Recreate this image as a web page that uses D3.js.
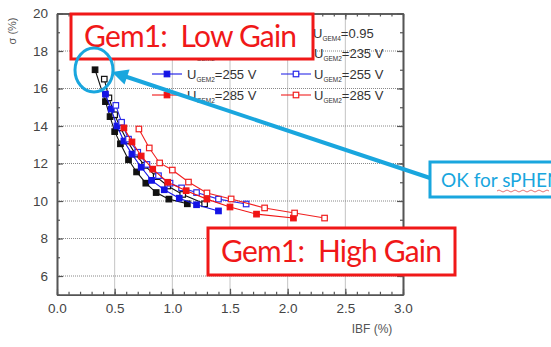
<!DOCTYPE html>
<html>
<head>
<meta charset="utf-8">
<script src="https://cdn.jsdelivr.net/npm/d3@7"></script>
<style>
  body { margin: 0; background: #fff; }
  text { font-family: "Liberation Sans", Arial, sans-serif; }
</style>
</head>
<body>
<div id="chart"></div>
<script>
// data: IBF (%) vs sigma (%)
const ibf235Filled = [0.33, 0.42, 0.46, 0.50, 0.55, 0.62, 0.69, 0.77, 0.86, 0.97, 1.13];
const sig235Filled = [17.0, 15.3, 14.5, 13.7, 13.05, 12.2, 11.55, 10.95, 10.45, 10.1, 9.85];
const ibf235Open = [0.41, 0.45, 0.50, 0.55, 0.61, 0.68, 0.76, 0.86, 0.96, 1.09, 1.28];
const sig235Open = [16.5, 15.5, 14.6, 13.9, 13.2, 12.5, 11.9, 11.3, 10.8, 10.35, 9.85];
const ibf255Filled = [0.42, 0.47, 0.52, 0.58, 0.65, 0.73, 0.82, 0.93, 1.06, 1.21, 1.40];
const sig255Filled = [15.7, 14.9, 14.0, 13.2, 12.5, 11.8, 11.1, 10.6, 10.15, 9.8, 9.47];
const ibf255Open = [0.51, 0.56, 0.62, 0.70, 0.78, 0.88, 0.98, 1.08, 1.21, 1.40, 1.64];
const sig255Open = [15.1, 14.2, 13.3, 12.6, 11.95, 11.35, 10.95, 10.7, 10.45, 10.1, 9.84];
const ibf285Filled = [0.58, 0.65, 0.73, 0.83, 0.96, 1.12, 1.30, 1.50, 1.73, 2.05];
const sig285Filled = [13.9, 13.15, 12.4, 11.7, 11.0, 10.55, 10.1, 9.68, 9.3, 9.09];
const ibf285Open = [0.71, 0.80, 0.89, 1.00, 1.14, 1.30, 1.51, 1.80, 2.06, 2.32];
const sig285Open = [13.84, 12.83, 12.03, 11.65, 11.01, 10.43, 10.11, 9.63, 9.36, 9.09];

const xTicks = [0.0, 0.5, 1.0, 1.5, 2.0, 2.5, 3.0];
const yTicks = [6, 8, 10, 12, 14, 16, 18, 20];

const series = [
  { x: ibf235Filled, y: sig235Filled, color: '#111', open: false },
  { x: ibf235Open, y: sig235Open, color: '#111', open: true },
  { x: ibf255Filled, y: sig255Filled, color: '#1414e6', open: false },
  { x: ibf255Open, y: sig255Open, color: '#2a2ae8', open: true },
  { x: ibf285Filled, y: sig285Filled, color: '#f01414', open: false },
  { x: ibf285Open, y: sig285Open, color: '#f02020', open: true }
];

const legendRows = [
  { label: '235 V', left: 0, right: 1, y: 53 },
  { label: '255 V', left: 2, right: 3, y: 74 },
  { label: '285 V', left: 4, right: 5, y: 95 }
];

const margin = { top: 13.5, left: 57 };
const width = 346, height = 281.25;

const svg = d3.select('#chart').append('svg')
  .attr('width', 551).attr('height', 347);

const g = svg.append('g')
  .attr('transform', 'translate(' + margin.left + ',' + margin.top + ')');

const xScale = d3.scaleLinear().domain([0, 3]).range([0, width]);
const yScale = d3.scaleLinear().domain([5, 20]).range([height, 0]);

// dotted grid
g.append('g').selectAll('line')
  .data(xTicks.filter(v => v > 0 && v < 3))
  .enter().append('line')
  .attr('x1', d => xScale(d)).attr('x2', d => xScale(d))
  .attr('y1', 0).attr('y2', height)
  .attr('stroke', '#888').attr('stroke-width', 1).attr('stroke-dasharray', '1,1');
g.append('g').selectAll('line')
  .data(yTicks.filter(v => v < 20))
  .enter().append('line')
  .attr('x1', 0).attr('x2', width)
  .attr('y1', d => yScale(d)).attr('y2', d => yScale(d))
  .attr('stroke', '#888').attr('stroke-width', 1).attr('stroke-dasharray', '1,1');

// axes with inward ticks on all four sides
const minorX = d3.range(0, 30.5, 1).map(v => v / 10);
const minorY = d3.range(5, 20.5, 1);

function styleAxis(sel) {
  sel.selectAll('.domain').attr('stroke', '#555').attr('stroke-width', 1.6);
  sel.selectAll('.tick line').attr('stroke', '#555').attr('stroke-width', 1.2);
  sel.selectAll('text').attr('fill', '#444').style('font-size', '13.5px')
    .style('font-family', '"Liberation Sans", Arial, sans-serif');
}

const bottom = g.append('g').attr('transform', 'translate(0,' + height + ')')
  .call(d3.axisBottom(xScale).tickValues(xTicks).tickFormat(d3.format('.1f'))
    .tickSizeInner(-6).tickSizeOuter(0).tickPadding(9));
styleAxis(bottom);
g.append('g').attr('transform', 'translate(0,' + height + ')')
  .call(d3.axisBottom(xScale).tickValues(minorX).tickFormat('').tickSizeInner(-3).tickSizeOuter(0))
  .call(styleAxis);

const left = g.append('g')
  .call(d3.axisLeft(yScale).tickValues(yTicks).tickFormat(d3.format('d'))
    .tickSizeInner(-6).tickSizeOuter(0).tickPadding(9));
styleAxis(left);
g.append('g')
  .call(d3.axisLeft(yScale).tickValues(minorY).tickFormat('').tickSizeInner(-3).tickSizeOuter(0))
  .call(styleAxis);

g.append('g')
  .call(d3.axisTop(xScale).tickValues(xTicks).tickFormat('').tickSizeInner(-6).tickSizeOuter(0))
  .call(styleAxis);
g.append('g')
  .call(d3.axisTop(xScale).tickValues(minorX).tickFormat('').tickSizeInner(-3).tickSizeOuter(0))
  .call(styleAxis);
g.append('g').attr('transform', 'translate(' + width + ',0)')
  .call(d3.axisRight(yScale).tickValues(yTicks).tickFormat('').tickSizeInner(-6).tickSizeOuter(0))
  .call(styleAxis);
g.append('g').attr('transform', 'translate(' + width + ',0)')
  .call(d3.axisRight(yScale).tickValues(minorY).tickFormat('').tickSizeInner(-3).tickSizeOuter(0))
  .call(styleAxis);

// axis titles
svg.append('text')
  .attr('transform', 'translate(16,31) rotate(-90)')
  .attr('text-anchor', 'middle')
  .attr('fill', '#555').style('font-size', '11px')
  .text('σ (%)');
svg.append('text')
  .attr('x', 372).attr('y', 333)
  .attr('text-anchor', 'middle')
  .attr('fill', '#555').style('font-size', '12px')
  .text('IBF (%)');

// curves
const line = d3.line().x(d => xScale(d[0])).y(d => yScale(d[1]));
const ms = 5.5;

function drawMarker(sel, s) {
  sel.attr('width', ms).attr('height', ms)
    .attr('fill', s.open ? '#fff' : s.color)
    .attr('stroke', s.color).attr('stroke-width', 1.2);
}

series.forEach(s => {
  const pts = s.x.map((v, i) => [v, s.y[i]]);
  g.append('path').datum(pts)
    .attr('d', line)
    .attr('fill', 'none').attr('stroke', s.color).attr('stroke-width', 1.1);
  g.append('g').selectAll('rect')
    .data(pts).enter().append('rect')
    .attr('x', d => xScale(d[0]) - ms / 2)
    .attr('y', d => yScale(d[1]) - ms / 2)
    .call(drawMarker, s);
});

// legend
const leg = svg.append('g');

function legendLabel(x, y, sub, rest) {
  const t = leg.append('text').attr('x', x).attr('y', y)
    .attr('fill', '#333').style('font-size', '13px');
  t.append('tspan').text('U');
  t.append('tspan').attr('dy', 3).style('font-size', '6.5px').text(sub);
  t.append('tspan').attr('dy', -3).text(rest);
}

legendLabel(313, 38, 'GEM4', '=0.95');
legendRows.forEach(r => {
  [[r.left, 152, 187], [r.right, 281, 314]].forEach(([idx, x0, tx]) => {
    const s = series[idx];
    leg.append('line').attr('x1', x0).attr('x2', x0 + 30)
      .attr('y1', r.y).attr('y2', r.y)
      .attr('stroke', s.color).attr('stroke-width', 1.1);
    leg.append('rect')
      .attr('x', x0 + 15 - ms / 2).attr('y', r.y - ms / 2)
      .call(drawMarker, s);
    legendLabel(tx, r.y + 5, 'GEM2', '=' + r.label);
  });
});

// annotation boxes
const red = '#f01818', cyan = '#19a6de';

svg.append('rect').attr('x', 71).attr('y', 14).attr('width', 242).attr('height', 45)
  .attr('fill', '#fff').attr('stroke', red).attr('stroke-width', 3);
svg.append('text').attr('x', 84).attr('y', 47)
  .attr('fill', red).style('font-family', 'Lato, "Open Sans", sans-serif')
  .style('font-size', '30px').style('white-space', 'pre').attr('textLength', 213)
  .text('Gem1:  Low Gain');

svg.append('rect').attr('x', 208).attr('y', 228).attr('width', 247).attr('height', 47)
  .attr('fill', '#fff').attr('stroke', red).attr('stroke-width', 3);
svg.append('text').attr('x', 221).attr('y', 262)
  .attr('fill', red).style('font-family', 'Lato, "Open Sans", sans-serif')
  .style('font-size', '30px').style('white-space', 'pre').attr('textLength', 221)
  .text('Gem1:  High Gain');

// callout
svg.append('defs').append('marker')
  .attr('id', 'head').attr('viewBox', '0 0 10 10')
  .attr('refX', 2).attr('refY', 5)
  .attr('markerWidth', 4.5).attr('markerHeight', 4)
  .attr('orient', 'auto')
  .append('path').attr('d', 'M0,0 L10,5 L0,10 Z').attr('fill', cyan);

svg.append('ellipse').attr('cx', 94).attr('cy', 70).attr('rx', 19).attr('ry', 22)
  .attr('fill', 'none').attr('stroke', cyan).attr('stroke-width', 3);
svg.append('line').attr('x1', 430).attr('y1', 178).attr('x2', 124).attr('y2', 76)
  .attr('stroke', cyan).attr('stroke-width', 4).attr('marker-end', 'url(#head)');

svg.append('rect').attr('x', 430).attr('y', 162).attr('width', 140).attr('height', 35)
  .attr('fill', '#fff').attr('stroke', cyan).attr('stroke-width', 3);
svg.append('text').attr('x', 441).attr('y', 187)
  .attr('fill', cyan).style('font-family', 'Lato, "Open Sans", sans-serif')
  .style('font-size', '19px')
  .text('OK for sPHENIX');
svg.append('path')
  .attr('d', 'M497,191 q2,-2 4,0 t4,0 t4,0 t4,0 t4,0 t4,0 t4,0 t4,0 t4,0 t4,0 t4,0 t4,0 t4,0')
  .attr('fill', 'none').attr('stroke', '#e05050').attr('stroke-width', 0.8);
</script>
</body>
</html>
